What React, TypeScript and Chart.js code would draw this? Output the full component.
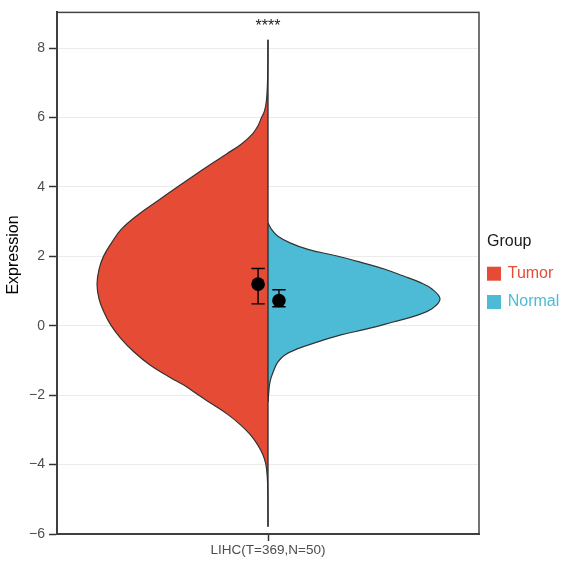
import React, { useEffect, useRef } from 'react';
import { Chart, registerables } from 'chart.js';

Chart.register(...registerables);

// ---------- data ----------
const categoryLabel = 'LIHC(T=369,N=50)';
const groups = ['Tumor', 'Normal'];
const groupColors = ['#E64B35', '#4DBBD5'];
const legendTitle = 'Group';
const yAxisTitle = 'Expression';
const yTickValues = [-6, -4, -2, 0, 2, 4, 6, 8];
const significance = '****';
const significanceY = 8.5;

// Tumor half-violin (expression value, relative density)
const tumorY = [-5.79, -4.84, -4.37, -3.98, -3.7, -3.41, -3.13, -2.84, -2.56, -2.27, -1.99, -1.7, -1.51, -1.13, -0.75, -0.37, 0.01, 0.39, 0.77, 1.2, 1.63, 2.0, 2.39, 2.77, 3.2, 3.62, 4.0, 4.29, 4.67, 4.96, 5.24, 5.53, 5.75, 6.0, 6.2, 6.5, 7.0, 7.5, 8.24];
const tumorDensity = [0, 0.001, 0.004, 0.013, 0.031, 0.063, 0.105, 0.164, 0.234, 0.322, 0.409, 0.495, 0.565, 0.69, 0.785, 0.86, 0.918, 0.959, 0.988, 1.0, 0.988, 0.962, 0.915, 0.86, 0.76, 0.64, 0.53, 0.445, 0.33, 0.24, 0.155, 0.09, 0.06, 0.038, 0.02, 0.009, 0.003, 0.001, 0];

// Normal half-violin
const normalY = [-2.2, -2.0, -1.61, -1.32, -1.04, -0.84, -0.66, -0.47, -0.27, -0.09, 0.11, 0.3, 0.49, 0.77, 1.06, 1.25, 1.44, 1.63, 1.82, 2.01, 2.2, 2.39, 2.58, 2.77, 2.96];
const normalDensity = [0, 0.003, 0.012, 0.031, 0.058, 0.099, 0.175, 0.287, 0.421, 0.579, 0.731, 0.871, 0.959, 1.006, 0.959, 0.889, 0.789, 0.684, 0.55, 0.404, 0.234, 0.129, 0.058, 0.022, 0];

// summary points with error bars [Tumor, Normal]
const centerValues = [1.2, 0.73];
const lowerValues = [0.63, 0.55];
const upperValues = [1.65, 1.04];

// ---------- layout / style constants ----------
const X_HALF_RANGE = 1.234;
const DODGE = [-0.058, 0.064];
const CAP_HALF = 0.039;
const FONT = "'Liberation Sans', Arial, Helvetica, sans-serif";
const AXIS_DARK = '#333333';
const TICK_TEXT = '#4d4d4d';

const overlayPlugin = {
  id: 'overlay',
  afterDraw(chart: any) {
    const { ctx, chartArea, scales } = chart;
    const { left, top, right, bottom } = chartArea;
    ctx.save();
    // panel frame
    ctx.strokeStyle = '#444444';
    ctx.lineWidth = 1.5;
    ctx.strokeRect(left, top, right - left, bottom - top);

    // significance label
    ctx.fillStyle = '#222222';
    ctx.font = `16px ${FONT}`;
    ctx.textAlign = 'center';
    ctx.textBaseline = 'alphabetic';
    ctx.fillText(significance, scales.x.getPixelForValue(0), scales.y.getPixelForValue(significanceY));

    // y axis title
    ctx.save();
    ctx.translate(14, 255);
    ctx.rotate(-Math.PI / 2);
    ctx.textAlign = 'center';
    ctx.textBaseline = 'middle';
    ctx.fillStyle = '#000000';
    ctx.font = `16px ${FONT}`;
    ctx.fillText(yAxisTitle, 0, 0);
    ctx.restore();

    // legend
    const lx = right + 8;
    ctx.textAlign = 'left';
    ctx.textBaseline = 'middle';
    ctx.fillStyle = '#1a1a1a';
    ctx.font = `16px ${FONT}`;
    ctx.fillText(legendTitle, lx, 242);
    groups.forEach((g, i) => {
      const cy = 273.7 + i * 28.3;
      ctx.fillStyle = groupColors[i];
      ctx.fillRect(lx, cy - 7, 14, 14);
      ctx.fillText(g, lx + 20.7, cy);
    });
    ctx.restore();
  },
};

export default function App() {
  const canvasRef = useRef<HTMLCanvasElement | null>(null);

  useEffect(() => {
    if (!canvasRef.current) return;

    const tumorPoints = tumorY.map((y, i) => ({ x: -tumorDensity[i], y }));
    const normalPoints = normalY.map((y, i) => ({ x: normalDensity[i], y }));

    const errorBar = (i: number) => {
      const cx = DODGE[i];
      const lo = lowerValues[i];
      const hi = upperValues[i];
      return [
        { x: cx - CAP_HALF, y: lo },
        { x: cx + CAP_HALF, y: lo },
        { x: cx, y: lo },
        { x: cx, y: hi },
        { x: cx - CAP_HALF, y: hi },
        { x: cx + CAP_HALF, y: hi },
      ];
    };

    const violin = (i: number, pts: any[]) => ({
      label: groups[i],
      data: pts,
      fill: 'origin',
      backgroundColor: groupColors[i],
      borderColor: AXIS_DARK,
      borderWidth: 1.2,
      pointRadius: 0,
      tension: 0.4,
      order: 4,
    });

    const chart = new Chart(canvasRef.current, {
      type: 'line',
      data: {
        datasets: [
          violin(0, tumorPoints),
          violin(1, normalPoints),
          {
            label: 'center',
            data: [
              { x: 0, y: tumorY[0] },
              { x: 0, y: tumorY[tumorY.length - 1] },
            ],
            fill: false,
            borderColor: '#2a2a2a',
            borderWidth: 1.3,
            pointRadius: 0,
            tension: 0,
            order: 3,
          },
          ...[0, 1].map((i) => ({
            label: groups[i] + ' range',
            data: errorBar(i),
            fill: false,
            borderColor: '#000000',
            borderWidth: 1.4,
            pointRadius: 0,
            tension: 0,
            order: 2,
          })),
          ...[0, 1].map((i) => ({
            label: groups[i] + ' center',
            data: [{ x: DODGE[i], y: centerValues[i] }],
            showLine: false,
            fill: false,
            pointRadius: 6.8,
            pointBackgroundColor: '#000000',
            pointBorderColor: '#000000',
            pointBorderWidth: 0,
            order: 1,
          })),
        ],
      },
      options: {
        indexAxis: 'y',
        responsive: false,
        animation: false,
        events: [],
        layout: { padding: { top: 7, right: 83, bottom: 0, left: 0 } },
        plugins: {
          legend: { display: false },
          tooltip: { enabled: false },
        },
        scales: {
          x: {
            type: 'linear',
            min: -X_HALF_RANGE,
            max: X_HALF_RANGE,
            afterBuildTicks: (s: any) => {
              s.ticks = [{ value: 0 }];
            },
            afterFit: (s: any) => {
              s.height = 30;
            },
            ticks: {
              callback: () => categoryLabel,
              color: TICK_TEXT,
              font: { family: FONT, size: 13.5 },
              padding: 1,
              maxRotation: 0,
              autoSkip: false,
            },
            grid: {
              drawOnChartArea: false,
              drawTicks: true,
              tickLength: 7,
              tickColor: AXIS_DARK,
              tickWidth: 1.5,
            },
            border: { display: true, color: AXIS_DARK, width: 2 },
          },
          y: {
            type: 'linear',
            min: -6,
            max: 9.03,
            afterBuildTicks: (s: any) => {
              s.ticks = yTickValues.map((v) => ({ value: v }));
            },
            afterFit: (s: any) => {
              s.width = 57;
            },
            ticks: {
              callback: (v: any) => String(v).replace('-', '\u2212'),
              color: TICK_TEXT,
              font: { family: FONT, size: 14 },
              padding: 4,
            },
            grid: {
              color: '#ebebeb',
              lineWidth: 1,
              drawTicks: true,
              tickLength: 8,
              tickColor: AXIS_DARK,
              tickWidth: 1.5,
            },
            border: { display: true, color: AXIS_DARK, width: 2 },
            title: { display: false },
          },
        },
      },
      plugins: [overlayPlugin],
    } as any);

    return () => chart.destroy();
  }, []);

  return (
    <div style={{ position: 'fixed', left: 0, top: 0, width: 562, height: 564, background: '#ffffff' }}>
      <canvas ref={canvasRef} width={562} height={564} />
    </div>
  );
}
